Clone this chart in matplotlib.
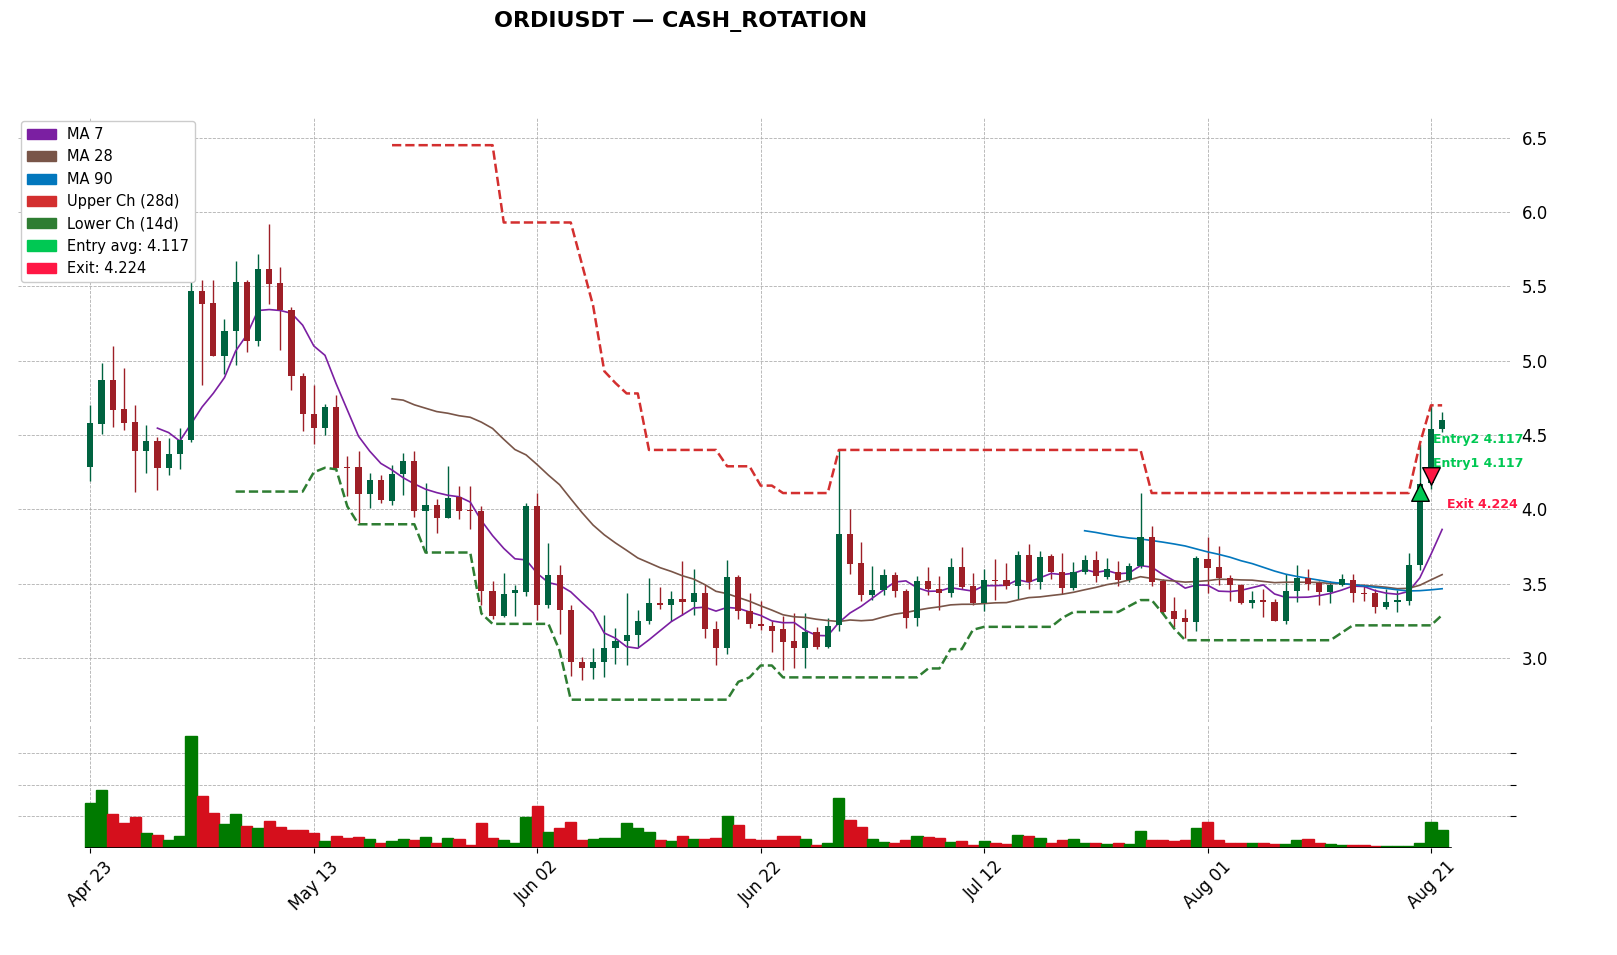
import numpy as np
import pandas as pd
import matplotlib
matplotlib.use('Agg')
import matplotlib.pyplot as plt
import matplotlib.patches as mpatches

dates = pd.date_range('2024-04-23', periods=122, freq='D')

opens = [4.288, 4.574, 4.87, 4.675, 4.585, 4.39, 4.46, 4.28, 4.37, 4.47,
         5.47, 5.39, 5.03, 5.20, 5.53, 5.13, 5.62, 5.52, 5.34, 4.90,
         4.64, 4.55, 4.69, 4.285, 4.285, 4.105, 4.20, 4.055, 4.236, 4.325,
         3.99, 4.03, 3.945, 4.085, 3.995, 3.99, 3.45, 3.285, 3.44, 3.446,
         4.02, 3.355, 3.56, 3.324, 2.972, 2.93, 2.972, 3.065, 3.113, 3.158,
         3.25, 3.37, 3.36, 3.40, 3.38, 3.44, 3.196, 3.065, 3.544, 3.315,
         3.23, 3.217, 3.196, 3.115, 3.07, 3.178, 3.076, 3.22, 3.837, 3.64,
         3.424, 3.456, 3.56, 3.45, 3.272, 3.515, 3.467, 3.435, 3.615, 3.485,
         3.37, 3.528, 3.522, 3.483, 3.69, 3.51, 3.685, 3.576, 3.474, 3.58,
         3.659, 3.543, 3.58, 3.526, 3.62, 3.815, 3.515, 3.315, 3.267, 3.24,
         3.667, 3.615, 3.537, 3.489, 3.37, 3.39, 3.38, 3.246, 3.45, 3.537,
         3.506, 3.441, 3.493, 3.528, 3.435, 3.435, 3.343, 3.38, 3.387, 3.627,
         4.175, 4.54]
closes = [4.578, 4.87, 4.67, 4.578, 4.39, 4.46, 4.28, 4.37, 4.47, 5.47,
          5.385, 5.03, 5.20, 5.53, 5.13, 5.62, 5.515, 5.34, 4.90, 4.64,
          4.55, 4.69, 4.28, 4.28, 4.105, 4.20, 4.06, 4.24, 4.325, 3.99,
          4.03, 3.945, 4.075, 3.99, 3.99, 3.45, 3.285, 3.43, 3.455, 4.02,
          3.355, 3.56, 3.324, 2.972, 2.93, 2.972, 3.065, 3.113, 3.158, 3.25,
          3.37, 3.36, 3.40, 3.38, 3.44, 3.196, 3.065, 3.544, 3.315, 3.23,
          3.215, 3.185, 3.11, 3.07, 3.178, 3.076, 3.217, 3.837, 3.635, 3.424,
          3.456, 3.56, 3.45, 3.272, 3.515, 3.467, 3.435, 3.615, 3.478, 3.37,
          3.528, 3.517, 3.483, 3.69, 3.51, 3.68, 3.576, 3.474, 3.58, 3.659,
          3.554, 3.598, 3.526, 3.62, 3.815, 3.511, 3.31, 3.265, 3.245, 3.674,
          3.609, 3.537, 3.489, 3.37, 3.39, 3.376, 3.246, 3.45, 3.537, 3.50,
          3.441, 3.493, 3.533, 3.435, 3.43, 3.343, 3.38, 3.39, 3.626, 4.171,
          4.543, 4.604]
highs = [4.70, 4.985, 5.10, 4.95, 4.70, 4.57, 4.49, 4.48, 4.55, 5.54,
         5.54, 5.54, 5.28, 5.67, 5.54, 5.72, 5.92, 5.63, 5.36, 4.915,
         4.84, 4.71, 4.77, 4.36, 4.39, 4.245, 4.23, 4.30, 4.38, 4.39,
         4.18, 4.07, 4.29, 4.16, 4.16, 4.02, 3.52, 3.57, 3.49, 4.044,
         4.107, 3.776, 3.626, 3.354, 3.01, 3.07, 3.29, 3.20, 3.44, 3.32,
         3.54, 3.48, 3.45, 3.65, 3.60, 3.496, 3.25, 3.66, 3.56, 3.44,
         3.385, 3.25, 3.28, 3.30, 3.30, 3.207, 3.27, 4.40, 4.0, 3.78,
         3.62, 3.60, 3.576, 3.467, 3.55, 3.615, 3.55, 3.674, 3.746, 3.57,
         3.598, 3.663, 3.637, 3.717, 3.77, 3.717, 3.70, 3.71, 3.645, 3.696,
         3.717, 3.674, 3.652, 3.64, 4.109, 3.885, 3.533, 3.413, 3.333, 3.685,
         3.815, 3.757, 3.56, 3.50, 3.45, 3.467, 3.40, 3.565, 3.626, 3.60,
         3.52, 3.515, 3.565, 3.565, 3.50, 3.467, 3.467, 3.46, 3.71, 4.44,
         4.705, 4.658]
lows = [4.19, 4.51, 4.556, 4.535, 4.12, 4.245, 4.13, 4.23, 4.275, 4.45,
        4.84, 5.03, 4.91, 4.97, 5.06, 5.10, 5.385, 5.075, 4.80, 4.53,
        4.44, 4.50, 4.28, 4.09, 3.91, 4.01, 4.045, 4.03, 4.10, 3.95,
        3.71, 3.84, 3.945, 3.935, 3.87, 3.36, 3.26, 3.275, 3.28, 3.42,
        3.254, 3.337, 3.163, 2.88, 2.85, 2.86, 2.875, 2.963, 2.955, 3.076,
        3.228, 3.33, 3.25, 3.29, 3.29, 3.137, 2.95, 3.03, 3.26, 3.20,
        3.19, 3.04, 2.92, 2.93, 2.93, 3.06, 3.065, 3.185, 3.565, 3.385,
        3.39, 3.424, 3.413, 3.20, 3.217, 3.424, 3.326, 3.413, 3.467, 3.355,
        3.315, 3.39, 3.467, 3.40, 3.467, 3.463, 3.533, 3.43, 3.457, 3.565,
        3.511, 3.533, 3.485, 3.511, 3.609, 3.485, 3.293, 3.207, 3.137, 3.18,
        3.44, 3.489, 3.385, 3.363, 3.337, 3.276, 3.246, 3.228, 3.38, 3.457,
        3.354, 3.37, 3.485, 3.376, 3.385, 3.30, 3.333, 3.31, 3.354, 3.59,
        4.139, 4.52]
volumes = [44, 57, 33, 25, 30, 15, 13, 8, 12, 110,
           51, 34, 24, 33, 22, 20, 27, 21, 18, 18,
           15, 7, 12, 10, 11, 9, 5, 7, 9, 8,
           11, 5, 10, 9, 3, 25, 10, 8, 5, 30,
           41, 16, 20, 26, 8, 9, 10, 10, 25, 20,
           16, 8, 7, 12, 9, 9, 10, 31, 23, 9,
           8, 8, 12, 12, 9, 3, 5, 49, 28, 21,
           9, 6, 5, 8, 12, 11, 10, 6, 7, 3,
           7, 5, 4, 13, 12, 10, 5, 8, 9, 5,
           5, 4, 5, 4, 17, 8, 8, 7, 8, 20,
           26, 8, 5, 5, 5, 5, 4, 4, 8, 9,
           5, 4, 3, 3, 3, 2, 2, 2, 2, 5,
           26, 18]

nan = np.nan
upper_ch = [nan] * 27 + [6.45] * 10 + [5.93] * 7 + [5.65, 5.37, 4.93, 4.85, 4.78, 4.78] \
    + [4.40] * 7 + [4.29] * 3 + [4.16] * 2 + [4.11] * 5 + [4.40] * 28 + [4.11] * 24 + [4.44, 4.70, 4.70]
lower_ch = [nan] * 13 + [4.12] * 7 + [4.25, 4.28, 4.27, 4.02] + [3.90] * 6 + [3.71] * 5 \
    + [3.30] + [3.23] * 6 + [3.05] + [2.72] * 15 + [2.84, 2.87, 2.95, 2.95] + [2.87] * 13 \
    + [2.93, 2.93, 3.06, 3.06, 3.19] + [3.21] * 7 + [3.27] + [3.31] * 5 + [3.35, 3.39, 3.39] \
    + [3.30, 3.20] + [3.12] * 14 + [3.17] + [3.22] * 8 + [3.29]

entry_idx, entry_price = 119, 4.117
exit_idx, exit_price = 120, 4.224

C_UP, C_DN = '#006340', '#9e1f27'
V_UP, V_DN = '#007a00', '#d50f1c'

x = np.arange(len(dates))
o, c, h, l = map(np.array, (opens, closes, highs, lows))
up = c >= o
close_s = pd.Series(c)

fig = plt.figure(figsize=(16.17, 9.55), dpi=100)
ax = fig.add_axes([0.011, 0.244, 0.923, 0.632])
axv = fig.add_axes([0.011, 0.112, 0.923, 0.129], sharex=ax)

for a in (ax, axv):
    a.grid(True, color='#b0b0b0', linestyle='--', linewidth=0.6)
    a.set_axisbelow(True)
    for s in a.spines.values():
        s.set_visible(False)
    a.yaxis.tick_right()

cols = np.where(up, C_UP, C_DN)
ax.vlines(x, l, h, colors=cols, linewidth=1)
body = np.maximum(np.abs(c - o), 0.008)
ax.bar(x, body, bottom=np.minimum(o, c), width=0.55, color=cols, zorder=3)

ax.plot(x, close_s.rolling(7).mean(), color='#7b1fa2', lw=1.2)
ax.plot(x, close_s.rolling(28).mean(), color='#795548', lw=1.2)
ax.plot(x, close_s.rolling(90).mean(), color='#0277bd', lw=1.2)
ax.plot(x, upper_ch, color='#d32f2f', lw=1.8, ls='--')
ax.plot(x, lower_ch, color='#2e7d32', lw=1.8, ls='--')

ax.scatter([entry_idx], [entry_price], marker='^', s=160, color='#00c853', edgecolor='black', zorder=5)
ax.scatter([exit_idx], [exit_price], marker='v', s=160, color='#ff1744', edgecolor='black', zorder=5)
ax.text(entry_idx + 1.2, 4.47, 'Entry2 4.117', color='#00c853', fontsize=9, fontweight='bold', va='center')
ax.text(entry_idx + 1.2, 4.31, 'Entry1 4.117', color='#00c853', fontsize=9, fontweight='bold', va='center')
ax.text(exit_idx + 1.4, 4.03, 'Exit 4.224', color='#ff1744', fontsize=9, fontweight='bold', va='center')

ax.set_ylim(2.57, 6.63)
ax.set_yticks([3.0, 3.5, 4.0, 4.5, 5.0, 5.5, 6.0, 6.5])
ax.tick_params(axis='y', labelsize=12, length=0, pad=8)
ax.tick_params(axis='x', labelbottom=False, length=0)

handles = [mpatches.Patch(color=cl, label=lb) for cl, lb in [
    ('#7b1fa2', 'MA 7'), ('#795548', 'MA 28'), ('#0277bd', 'MA 90'),
    ('#d32f2f', 'Upper Ch (28d)'), ('#2e7d32', 'Lower Ch (14d)'),
    ('#00c853', f'Entry avg: {entry_price:.3f}'), ('#ff1744', f'Exit: {exit_price:.3f}')]]
ax.legend(handles=handles, loc='upper left', fontsize=10.5, framealpha=1, borderaxespad=0.2)

axv.bar(x, volumes, width=1.0, color=np.where(up, V_UP, V_DN), edgecolor=np.where(up, V_UP, V_DN))
axv.set_ylim(0, 3.9 * 31)
axv.set_yticks([31, 62, 93])
axv.set_yticklabels([])
axv.tick_params(axis='y', length=4)
axv.axhline(0, color='black', lw=1.2, xmin=0.046, xmax=0.96)

ticks = list(range(0, len(dates), 20))
axv.set_xticks(ticks)
axv.set_xticklabels([dates[i].strftime('%b %d') for i in ticks], rotation=45, fontsize=12)
axv.set_xlim(-6.5, 127.1)

fig.text(681 / 1617, 1 - 22 / 955, 'ORDIUSDT — CASH_ROTATION', ha='center', va='center',
         fontsize=16, fontweight='bold')

fig.savefig('out.png', dpi=100)
